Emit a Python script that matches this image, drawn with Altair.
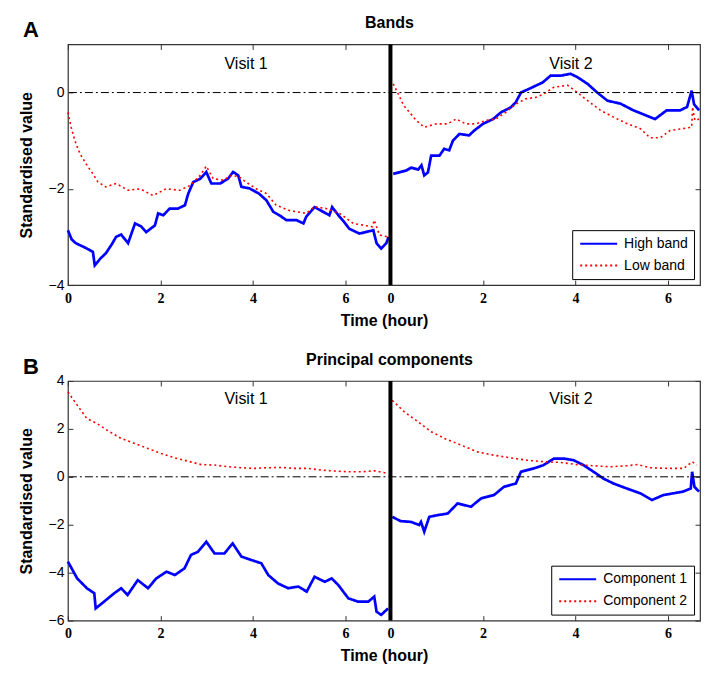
import altair as alt
import pandas as pd

# ---------------- data ----------------
V1_LEN = 6.97   # length of visit 1 axis (hours)
V2_LEN = 6.69   # length of visit 2 axis (hours)
HOUR_TICKS = [0, 2, 4, 6]

# Panel A, visit 1
A1_HIGH_T = [0.0, 0.08, 0.17, 0.39, 0.54, 0.58, 0.7, 0.82, 0.95, 1.04, 1.15, 1.3, 1.45, 1.58, 1.69, 1.88, 1.95,
             2.06, 2.2, 2.38, 2.53, 2.6, 2.71, 2.86, 2.99, 3.1, 3.29, 3.46, 3.57, 3.68, 3.75, 3.92, 4.13, 4.29,
             4.44, 4.57, 4.72, 4.94, 5.09, 5.15, 5.33, 5.52, 5.65, 5.71, 5.87, 5.97, 6.08, 6.3, 6.6, 6.67, 6.77,
             6.88, 6.93]
A1_HIGH = [-2.86, -3.05, -3.13, -3.23, -3.31, -3.59, -3.45, -3.34, -3.15, -3.0, -2.95, -3.13, -2.72, -2.78, -2.9,
           -2.76, -2.51, -2.55, -2.41, -2.41, -2.34, -2.1, -1.86, -1.79, -1.65, -1.89, -1.89, -1.79, -1.65, -1.72,
           -1.96, -1.99, -2.1, -2.24, -2.48, -2.55, -2.65, -2.65, -2.72, -2.58, -2.38, -2.48, -2.55, -2.38, -2.58,
           -2.69, -2.83, -2.93, -2.86, -3.13, -3.24, -3.13, -3.0]
A1_LOW_T = [0.0, 0.07, 0.15, 0.26, 0.39, 0.54, 0.65, 0.82, 1.04, 1.3, 1.56, 1.84, 2.12, 2.42, 2.64, 2.86, 2.99,
            3.14, 3.36, 3.53, 3.7, 3.85, 4.07, 4.29, 4.5, 4.78, 5.15, 5.33, 5.58, 5.87, 6.17, 6.58, 6.62, 6.73, 6.92]
A1_LOW = [-0.41, -0.72, -1.0, -1.27, -1.48, -1.69, -1.86, -1.96, -1.89, -2.03, -2.0, -2.14, -2.0, -2.03, -1.93,
          -1.72, -1.53, -1.79, -1.82, -1.72, -1.75, -1.86, -2.0, -2.1, -2.34, -2.45, -2.51, -2.37, -2.41, -2.51,
          -2.72, -2.79, -2.65, -2.96, -3.0]

# Panel A, visit 2
A2_HIGH_T = [0.06, 0.34, 0.45, 0.6, 0.67, 0.73, 0.81, 0.88, 1.06, 1.16, 1.27, 1.35, 1.49, 1.7, 1.81, 2.0, 2.22,
             2.39, 2.6, 2.71, 2.82, 3.07, 3.29, 3.46, 3.68, 3.89, 4.04, 4.26, 4.47, 4.69, 4.97, 5.25, 5.61, 5.72,
             5.97, 6.26, 6.41, 6.51, 6.56, 6.67]
A2_HIGH = [-1.69, -1.62, -1.56, -1.6, -1.51, -1.72, -1.66, -1.31, -1.31, -1.17, -1.2, -1.0, -0.86, -0.89, -0.79,
           -0.65, -0.55, -0.41, -0.31, -0.2, 0.0, 0.11, 0.21, 0.35, 0.35, 0.39, 0.32, 0.18, 0.0, -0.17, -0.23,
           -0.37, -0.51, -0.55, -0.37, -0.37, -0.3, 0.04, -0.24, -0.37]
A2_LOW_T = [0.06, 0.17, 0.28, 0.41, 0.56, 0.73, 0.99, 1.24, 1.42, 1.63, 1.85, 2.06, 2.28, 2.49, 2.71, 2.92, 3.14,
            3.31, 3.53, 3.83, 4.04, 4.26, 4.54, 4.82, 5.12, 5.4, 5.61, 5.83, 6.04, 6.32, 6.51, 6.53, 6.58, 6.67]
A2_LOW = [0.18, -0.03, -0.26, -0.41, -0.58, -0.72, -0.65, -0.65, -0.55, -0.65, -0.65, -0.58, -0.55, -0.41, -0.24,
          -0.13, -0.1, -0.03, 0.11, 0.15, 0.0, -0.17, -0.37, -0.51, -0.65, -0.75, -0.94, -0.94, -0.79, -0.75,
          -0.72, -0.3, -0.58, -0.55]

# Panel B, visit 1
B1_C1_T = [0.0, 0.2, 0.41, 0.57, 0.6, 0.78, 1.0, 1.15, 1.29, 1.51, 1.73, 1.91, 2.13, 2.31, 2.52, 2.66, 2.81,
           2.99, 3.17, 3.38, 3.56, 3.75, 3.96, 4.18, 4.33, 4.54, 4.76, 4.98, 5.16, 5.33, 5.55, 5.7, 5.84, 6.06,
           6.27, 6.49, 6.62, 6.67, 6.77, 6.92]
B1_C1 = [-3.54, -4.24, -4.65, -4.86, -5.49, -5.21, -4.86, -4.65, -4.93, -4.31, -4.65, -4.24, -3.96, -4.1, -3.82,
         -3.26, -3.13, -2.71, -3.2, -3.2, -2.78, -3.33, -3.47, -3.61, -4.1, -4.45, -4.65, -4.58, -4.79, -4.17,
         -4.38, -4.24, -4.51, -5.07, -5.21, -5.21, -5.0, -5.63, -5.76, -5.49]
B1_C2_T = [0.0, 0.2, 0.41, 0.63, 0.85, 1.15, 1.44, 1.73, 2.02, 2.31, 2.6, 2.88, 3.17, 3.46, 3.75, 4.03, 4.33,
           4.62, 4.9, 5.19, 5.48, 5.77, 6.06, 6.35, 6.63, 6.92]
B1_C2 = [3.54, 2.99, 2.43, 2.22, 1.94, 1.6, 1.39, 1.18, 0.97, 0.79, 0.65, 0.51, 0.49, 0.42, 0.38, 0.35, 0.38,
         0.39, 0.35, 0.35, 0.28, 0.24, 0.21, 0.21, 0.25, 0.14]

# Panel B, visit 2
B2_C1_T = [0.04, 0.22, 0.44, 0.62, 0.66, 0.73, 0.84, 1.02, 1.24, 1.45, 1.74, 1.96, 2.24, 2.45, 2.71, 2.82, 3.1,
           3.31, 3.53, 3.75, 3.96, 4.17, 4.39, 4.6, 4.82, 5.11, 5.4, 5.65, 5.9, 6.11, 6.32, 6.49, 6.52, 6.57, 6.67]
B2_C1 = [-1.67, -1.85, -1.88, -2.01, -1.88, -2.29, -1.67, -1.6, -1.53, -1.11, -1.25, -0.9, -0.76, -0.42, -0.28,
         0.21, 0.35, 0.49, 0.76, 0.76, 0.69, 0.49, 0.21, -0.07, -0.28, -0.49, -0.69, -0.97, -0.76, -0.69, -0.62,
         -0.49, 0.21, -0.42, -0.62]
B2_C2_T = [0.04, 0.3, 0.6, 0.88, 1.17, 1.53, 1.88, 2.24, 2.6, 2.96, 3.31, 3.67, 4.03, 4.39, 4.75, 5.11, 5.33,
           5.62, 5.98, 6.34, 6.52, 6.62]
B2_C2 = [3.19, 2.71, 2.29, 1.88, 1.6, 1.32, 1.04, 0.9, 0.79, 0.69, 0.63, 0.6, 0.51, 0.46, 0.42, 0.46, 0.51, 0.38,
         0.35, 0.35, 0.63, 0.49]

A_NAMES = ["High band", "Low band"]
B_NAMES = ["Component 1", "Component 2"]


def frame(series_list):
    rows = []
    for name, visit, ts, vs in series_list:
        for t, v in zip(ts, vs):
            rows.append({"series": name, "visit": visit, "t": t, "v": v})
    return pd.DataFrame(rows)


dfA = frame([
    (A_NAMES[0], 1, A1_HIGH_T, A1_HIGH), (A_NAMES[1], 1, A1_LOW_T, A1_LOW),
    (A_NAMES[0], 2, A2_HIGH_T, A2_HIGH), (A_NAMES[1], 2, A2_LOW_T, A2_LOW),
])
dfB = frame([
    (B_NAMES[0], 1, B1_C1_T, B1_C1), (B_NAMES[1], 1, B1_C2_T, B1_C2),
    (B_NAMES[0], 2, B2_C1_T, B2_C1), (B_NAMES[1], 2, B2_C2_T, B2_C2),
])

XTICKS = HOUR_TICKS + [V1_LEN + h for h in HOUR_TICKS]
XDOM = [0, V1_LEN + V2_LEN]
XCALC = f"datum.visit == 2 ? datum.t + {V1_LEN} : datum.t"
LABEL_EXPR = f"datum.value >= {V1_LEN - 0.01} ? format(datum.value - {V1_LEN}, '.0f') : format(datum.value, '.0f')"

SANS = "Liberation Sans"
SERIF = "Liberation Serif"
W = 633
LEGEND = dict(orient="bottom-right", offset=6, symbolType="M-3,0H3", symbolSize=152, symbolStrokeWidth=2,
              labelOffset=18, symbolOffset=13)


def panel(df, names, letter, title, ydom, yticks, height, visit_y):
    xscale = alt.Scale(domain=XDOM, nice=False, zero=False)
    yscale = alt.Scale(domain=ydom, nice=False, zero=False)
    common_axis = dict(grid=False, domain=False, tickSize=5, offset=-5, tickColor="#333", tickWidth=1)
    color = alt.Color("series:N", scale=alt.Scale(domain=names, range=["#0000FF", "#FF0000"]), title=None,
                      legend=alt.Legend(**LEGEND))
    dash = alt.StrokeDash("series:N", scale=alt.Scale(domain=names, range=[[1, 0], [2, 3]]), title=None,
                          legend=alt.Legend(**LEGEND))

    def series_layer(name, width, with_axes):
        enc = dict(
            x=alt.X("xpos:Q", scale=xscale,
                    axis=alt.Axis(orient="bottom", values=XTICKS, labelExpr=LABEL_EXPR, title="Time (hour)",
                                  titleFont=SANS, titleFontSize=16, titleFontWeight="bold", titlePadding=7,
                                  titleColor="black", labelFont=SERIF, labelFontSize=14, labelFontWeight="bold",
                                  labelColor="black", labelPadding=6, labelFlush=False, labelOverlap=False,
                                  **common_axis) if with_axes else None),
            y=alt.Y("v:Q", scale=yscale,
                    axis=alt.Axis(orient="left", values=yticks, title="Standardised value", titleFont=SANS,
                                  titleFontSize=16, titleFontWeight="bold", titlePadding=14, titleColor="black",
                                  labelFont=SANS, labelFontSize=14, labelColor="black", labelPadding=4,
                                  **common_axis) if with_axes else None),
            color=color, strokeDash=dash, detail="visit:N",
        )
        return alt.Chart(df).transform_calculate(xpos=XCALC).transform_filter(
            alt.datum.series == name).mark_line(strokeWidth=width, strokeCap="butt").encode(**enc)

    line_hi = series_layer(names[0], 2.7, True)
    line_lo = series_layer(names[1], 1.6, False)

    mirror = alt.Chart(df).transform_calculate(xpos=XCALC).mark_point(opacity=0).encode(
        x=alt.X("xpos:Q", scale=xscale,
                axis=alt.Axis(orient="top", values=XTICKS, labels=False, title=None, **common_axis)),
        y=alt.Y("v:Q", scale=yscale,
                axis=alt.Axis(orient="right", values=yticks, labels=False, title=None, **common_axis)),
    )

    zero = alt.Chart(pd.DataFrame({"v": [0]})).mark_rule(
        color="black", strokeWidth=1, strokeDash=[8, 3, 2, 3]).encode(
        y=alt.Y("v:Q", scale=yscale, axis=None))

    divider = alt.Chart(pd.DataFrame({"xpos": [V1_LEN]})).mark_rule(
        color="black", strokeWidth=4).encode(
        x=alt.X("xpos:Q", scale=xscale, axis=None))

    visits = alt.Chart(pd.DataFrame({"xpos": [3.85, V1_LEN + 3.9], "lab": ["Visit 1", "Visit 2"]})).mark_text(
        font=SANS, fontSize=16, color="black", baseline="middle").encode(
        x=alt.X("xpos:Q", scale=xscale, axis=None), y=alt.value(visit_y), text="lab:N")

    letter_mark = alt.Chart(pd.DataFrame({"lab": [letter]})).mark_text(
        font=SANS, fontSize=22, fontWeight="bold", color="black", baseline="middle", align="center").encode(
        x=alt.value(-37), y=alt.value(-14), text="lab:N")

    title_mark = alt.Chart(pd.DataFrame({"lab": [title]})).mark_text(
        font=SANS, fontSize=16, fontWeight="bold", color="black", baseline="middle", align="center").encode(
        x=alt.value(322), y=alt.value(-21), text="lab:N")

    return alt.layer(line_hi, line_lo, mirror, zero, divider, visits, letter_mark, title_mark).resolve_axis(
        x="independent", y="independent"
    ).properties(width=W, height=height)


pA = panel(dfA, A_NAMES, "A", "Bands", [-4, 1], [-4, -2, 0], 241, 20)
pB = panel(dfB, B_NAMES, "B", "Principal components", [-6, 4], [-6, -4, -2, 0, 2, 4], 240, 18)

chart = alt.vconcat(pA, pB, spacing=22).resolve_scale(
    color="independent", strokeDash="independent"
).properties(
    padding={"left": 9, "top": 6, "right": 5, "bottom": 5}
).configure_view(
    stroke="#333", strokeWidth=1.2
).configure_legend(
    strokeColor="black", fillColor="white", padding=6, labelFont=SANS, labelFontSize=14, labelColor="black",
    rowPadding=7, cornerRadius=0, strokeWidth=1
)

chart.save("out.html", embed_options={"renderer": "svg", "actions": False})
